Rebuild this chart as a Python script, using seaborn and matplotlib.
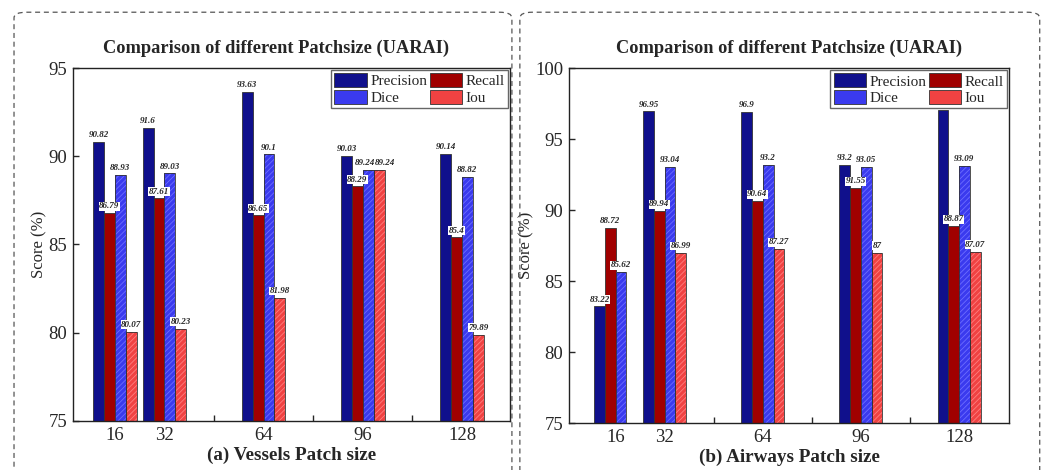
import numpy as np
import pandas as pd
import matplotlib
matplotlib.use('Agg')
import matplotlib.pyplot as plt
from matplotlib.patches import FancyBboxPatch, Rectangle
import seaborn as sns

patch_sizes = [16, 32, 64, 96, 128]
metrics = ['Precision', 'Recall', 'Dice', 'Iou']

vessels_precision = [90.82, 91.6, 93.63, 90.03, 90.14]
vessels_recall = [86.79, 87.61, 86.65, 88.29, 85.4]
vessels_dice = [88.93, 89.03, 90.1, 89.24, 88.82]
vessels_iou = [80.07, 80.23, 81.98, 89.24, 79.89]

airways_precision = [83.22, 96.95, 96.9, 93.2, 97.07]
airways_recall = [88.72, 89.94, 90.64, 91.55, 88.87]
airways_dice = [85.62, 93.04, 93.2, 93.05, 93.09]
airways_iou = [np.nan, 86.99, 87.27, 87, 87.07]

colors = {'Precision': '#10108c', 'Recall': '#a00000', 'Dice': '#3a3aee', 'Iou': '#f04242'}
hatch_colors = {'Dice': '#6e6eff', 'Iou': '#ff8080'}

sns.set_style('ticks')
plt.rcParams['font.family'] = ['Liberation Serif', 'DejaVu Serif']
plt.rcParams['hatch.linewidth'] = 0.6


def long_table(values):
    rows = []
    for m, vals in zip(metrics, values):
        for p, v in zip(patch_sizes, vals):
            rows.append({'patch': p, 'metric': m, 'score': v})
    return pd.DataFrame(rows)


def draw_panel(ax, df, ylim, xlim, xlabel, title_x):
    sns.barplot(data=df, x='patch', y='score', hue='metric', hue_order=metrics,
                palette=colors, native_scale=True, width=0.875, saturation=1,
                edgecolor='#333333', linewidth=0.6, errorbar=None, ax=ax)
    texts = {}
    for metric, cont in zip(metrics, ax.containers):
        if metric in hatch_colors:
            for bar in cont:
                bar.set_hatch('//////')
                bar.set_edgecolor(hatch_colors[metric])
                bar.set_linewidth(0)
                ax.add_patch(Rectangle(bar.get_xy(), bar.get_width(), bar.get_height(),
                                       fill=False, edgecolor='#333333', linewidth=0.6))
        labels = ['' if np.isnan(v) else f'{v:g}' for v in cont.datavalues]
        texts[metric] = (cont.datavalues, ax.bar_label(
            cont, labels=labels, padding=2, fontsize=6.5, fontweight='bold',
            fontstyle='italic', bbox=dict(facecolor='white', edgecolor='none', pad=0.3)))
    # separate neighbouring labels with the same height
    dv, dt = texts['Dice']
    iv, it = texts['Iou']
    if len(dv) == len(iv):
        for a, b, ta, tb in zip(dv, iv, dt, it):
            if abs(a - b) < 0.3:
                ta.set_ha('right')
                ta.xyann = (5, ta.xyann[1])
                tb.set_ha('left')
                tb.xyann = (-3, tb.xyann[1])
    ax.set_ylim(*ylim)
    ax.set_xlim(*xlim)
    ax.set_yticks(np.arange(ylim[0], ylim[1] + 1, 5))
    ax.set_xticks([16, 32, 48, 64, 80, 96, 112, 128])
    ax.set_xticklabels(['16', '32', '', '64', '', '96', '', '128'])
    ax.tick_params(direction='in', labelsize=13.5, length=4, width=1, pad=4)
    for s in ax.spines.values():
        s.set_visible(True)
        s.set_color('#222222')
        s.set_linewidth(1)
    ax.set_title('Comparison of different Patchsize (UARAI)', fontsize=13.2,
                 fontweight='bold', pad=11, x=title_x)
    ax.set_xlabel(xlabel, fontsize=13.8, fontweight='bold', labelpad=2)
    ax.set_ylabel('Score (%)', fontsize=12, labelpad=1)
    handles, lbls = ax.get_legend_handles_labels()
    order = [0, 2, 1, 3]
    leg = ax.legend([handles[i] for i in order], [lbls[i] for i in order], ncol=2,
                    loc='upper right', fontsize=11, frameon=True, fancybox=False,
                    framealpha=1, edgecolor='#666666', borderaxespad=0.15,
                    handlelength=2.1, handleheight=1.0, handletextpad=0.25,
                    columnspacing=0.15, labelspacing=0.1, borderpad=0.2)
    leg.get_frame().set_linewidth(1)


fig = plt.figure(figsize=(10.46, 4.70), dpi=100)
for x0, w in [(0.0134, 0.476), (0.497, 0.497)]:
    fig.patches.append(FancyBboxPatch((x0, -0.05), w, 0.05 + 0.974,
                                      boxstyle='round,pad=0,rounding_size=0.012',
                                      transform=fig.transFigure, fill=False,
                                      edgecolor='#555555', linestyle=(0, (4, 3)),
                                      linewidth=0.9))

ax1 = fig.add_axes([0.0698, 0.1043, 0.4178, 0.751])
ax2 = fig.add_axes([0.544, 0.100, 0.4207, 0.755])

draw_panel(ax1, long_table([vessels_precision, vessels_recall, vessels_dice, vessels_iou]),
           (75, 95), (2.5, 143.5), '(a) Vessels Patch size', 0.465)
draw_panel(ax2, long_table([airways_precision, airways_recall, airways_dice, airways_iou]),
           (75, 100), (0.8, 144.3), '(b) Airways Patch size', 0.5)

fig.savefig('out.png', dpi=100)
